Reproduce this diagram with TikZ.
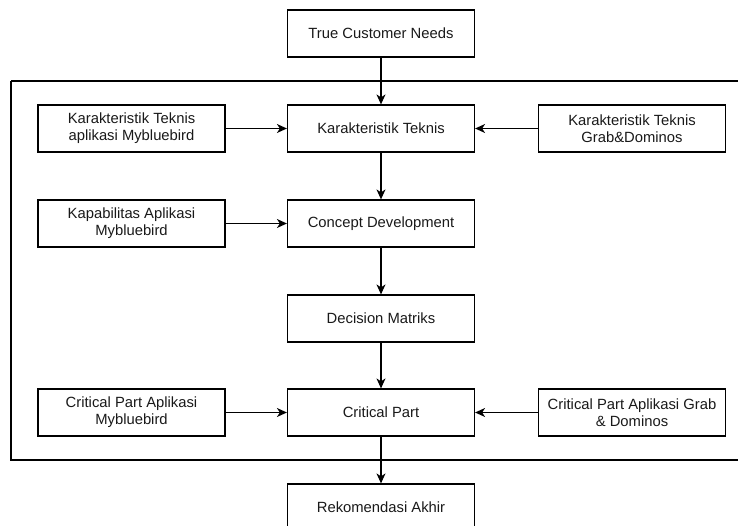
\documentclass[tikz,border=0pt]{standalone}
\usepackage{fontspec}
\setmainfont{Liberation Sans}
\usetikzlibrary{arrows.meta}
\begin{document}
\begin{tikzpicture}[x=1pt,y=-1pt,
  box/.style={draw, line width=1.2pt, minimum width=187pt, minimum height=47pt, inner sep=0pt, align=center, font=\fontsize{14.8}{16.8}\selectfont, text=black!90},
  arr/.style={line width=1.2pt, -{Stealth[length=10pt,width=9pt,inset=3pt]}}]
\clip (0,0) rectangle (738,526);
\draw[line width=1.2pt] (11,81) -- (745,81);
\draw[line width=1.2pt] (745,460) -- (11,460) -- (11,81);
\node[box] (tcn) at (381,33.5) {True Customer Needs};
\node[box] (kt) at (381,128.5) {Karakteristik Teknis};
\node[box] (ktm) at (131.5,128.5) {Karakteristik Teknis\\aplikasi Mybluebird};
\node[box] (ktg) at (632,128.5) {Karakteristik Teknis\\Grab\&Dominos};
\node[box] (cd) at (381,223.5) {Concept Development};
\node[box] (kam) at (131.5,223.5) {Kapabilitas Aplikasi\\Mybluebird};
\node[box] (dm) at (381,318.5) {Decision Matriks};
\node[box] (cp) at (381,412.5) {Critical Part};
\node[box] (cpm) at (131.5,412.5) {Critical Part Aplikasi\\Mybluebird};
\node[box] (cpg) at (632,412.5) {Critical Part Aplikasi Grab\\\& Dominos};
\node[box] (ra) at (381,507.5) {Rekomendasi Akhir};
\draw[arr] (tcn) -- (kt);
\draw[arr] (ktm) -- (kt);
\draw[arr] (ktg) -- (kt);
\draw[arr] (kt) -- (cd);
\draw[arr] (kam) -- (cd);
\draw[arr] (cd) -- (dm);
\draw[arr] (dm) -- (cp);
\draw[arr] (cpm) -- (cp);
\draw[arr] (cpg) -- (cp);
\draw[arr] (cp) -- (ra);
\end{tikzpicture}
\end{document}
